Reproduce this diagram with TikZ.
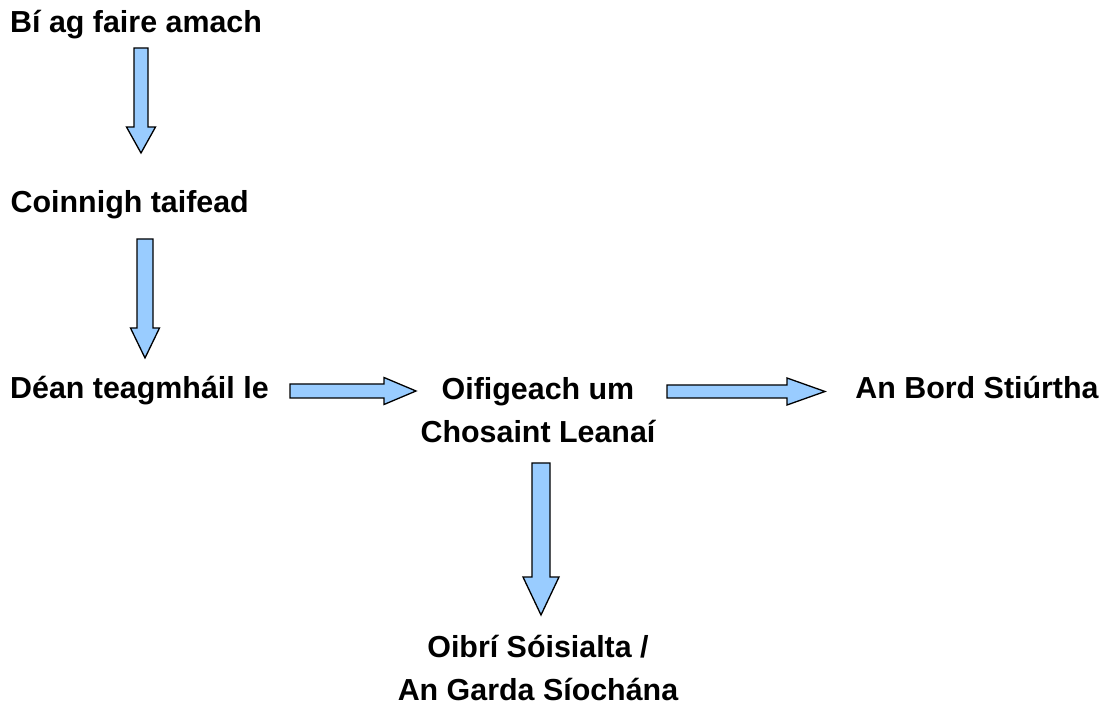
\documentclass[tikz,border=0pt]{standalone}
\usepackage{fontspec}
\setmainfont{Liberation Sans}
\usetikzlibrary{calc}
\definecolor{arrowblue}{RGB}{153,204,255}
\tikzset{
  lbl/.style={inner sep=0pt, font=\fontsize{30.4}{43}\selectfont\bfseries, align=center},
  blockarrow/.style={draw=black, fill=arrowblue, line width=1.3pt, line join=miter},
}
% vertical block arrow: start, tip, half shaft, half head, head length
\newcommand\vblockarrow[5]{%
  \draw[blockarrow] let \p1=(#1), \p2=(#2) in
    (\x1-#3pt,\y1) -- (\x1+#3pt,\y1) -- (\x1+#3pt,\y2+#5pt) -- (\x1+#4pt,\y2+#5pt)
    -- (\x1,\y2) -- (\x1-#4pt,\y2+#5pt) -- (\x1-#3pt,\y2+#5pt) -- cycle;}
% horizontal block arrow
\newcommand\hblockarrow[5]{%
  \draw[blockarrow] let \p1=(#1), \p2=(#2) in
    (\x1,\y1+#3pt) -- (\x2-#5pt,\y1+#3pt) -- (\x2-#5pt,\y1+#4pt)
    -- (\x2,\y1) -- (\x2-#5pt,\y1-#4pt) -- (\x2-#5pt,\y1-#3pt) -- (\x1,\y1-#3pt) -- cycle;}
\begin{document}
\begin{tikzpicture}[x=1pt,y=-1pt]
\useasboundingbox[fill=white] (0,0) rectangle (1112,708);

\node[lbl, anchor=base west] (t1) at (10,33) {Bí ag faire amach};
\node[lbl, anchor=base west] (t2) at (10.5,213) {Coinnigh taifead};
\node[lbl, anchor=base west] (t3) at (10,399) {Déan teagmháil le};
\node[lbl, anchor=base] (t4) at (538,443) {Oifigeach um\\Chosaint Leanaí};
\node[lbl, anchor=base] (t5) at (977,399) {An Bord Stiúrtha};
\node[lbl, anchor=base] (t6) at (538,700) {Oibrí Sóisialta /\\An Garda Síochána};

\coordinate (a1s) at ($(t1.base west)+(131,15)$);
\coordinate (a1e) at ($(t1.base west)+(131,120)$);
\coordinate (a2s) at ($(t2.base west)+(134.5,26)$);
\coordinate (a2e) at ($(t2.base west)+(134.5,145)$);
\coordinate (a3s) at (290,391);
\coordinate (a3e) at (416,391);
\coordinate (a4s) at (667,391.5);
\coordinate (a4e) at (825,391.5);
\coordinate (a5s) at (541,463);
\coordinate (a5e) at (541,615);

\vblockarrow{a1s}{a1e}{7}{14.5}{26}
\vblockarrow{a2s}{a2e}{8}{14.5}{30}
\hblockarrow{a3s}{a3e}{7}{13.5}{32}
\hblockarrow{a4s}{a4e}{6.5}{13.5}{38}
\vblockarrow{a5s}{a5e}{9}{18}{38}
\end{tikzpicture}
\end{document}
